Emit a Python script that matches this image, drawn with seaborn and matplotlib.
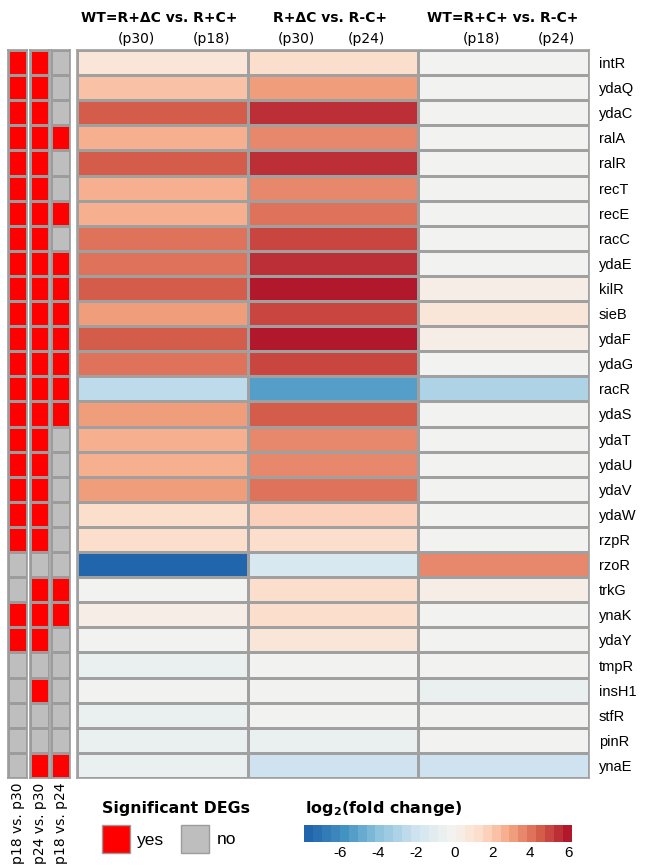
import numpy as np
import pandas as pd
import matplotlib
matplotlib.use("Agg")
import matplotlib.pyplot as plt
import seaborn as sns
from matplotlib.colors import LinearSegmentedColormap, ListedColormap, BoundaryNorm, TwoSlopeNorm
from matplotlib.patches import Rectangle

# ---- data -------------------------------------------------------------
genes = ["intR", "ydaQ", "ydaC", "ralA", "ralR", "recT", "recE", "racC", "ydaE",
         "kilR", "sieB", "ydaF", "ydaG", "racR", "ydaS", "ydaT", "ydaU", "ydaV",
         "ydaW", "rzpR", "rzoR", "trkG", "ynaK", "ydaY", "tmpR", "insH1", "stfR",
         "pinR", "ynaE"]

comparisons = ["WT=R+ΔC vs. R+C+", "R+ΔC vs. R-C+", "WT=R+C+ vs. R-C+"]
passages = [("(p30)", "(p18)"), ("(p30)", "(p24)"), ("(p18)", "(p24)")]

# log2 fold change per comparison
lfc_wt_vs_rcp = [0.8, 2.4, 4.7, 2.9, 4.7, 2.9, 2.9, 4.2, 4.2, 4.7, 3.3, 4.7, 4.2,
                 -2.5, 3.3, 2.9, 2.9, 3.3, 1.4, 1.2, -7.7, 0.0, 0.35, 0.05, -0.4,
                 0.05, -0.7, -0.7, -0.4]
lfc_dc_vs_rmc = [1.4, 3.3, 5.5, 3.7, 5.5, 3.7, 4.2, 5.1, 5.5, 6.2, 5.1, 6.2, 5.1,
                 -5.3, 4.7, 3.7, 3.7, 4.2, 1.9, 1.4, -1.5, 1.1, 1.3, 0.8, -0.1,
                 0.05, -0.1, -0.4, -1.9]
lfc_wt_vs_rmc = [-0.1, 0.05, 0.05, 0.05, 0.05, 0.05, 0.05, -0.1, 0.05, 0.35, 0.7, 0.35,
                 0.05, -3.2, 0.05, 0.05, 0.05, 0.05, -0.1, -0.1, 3.7, 0.35, 0.05,
                 0.05, 0.05, -0.4, -0.1, -0.1, -1.9]

# significant DEGs between passages (1 = yes, 0 = no)
sig_labels = ["p18 vs. p30", "p24 vs. p30", "p18 vs. p24"]
sig_p18_p30 = [1] * 20 + [0, 0, 1, 1, 0, 0, 0, 0, 0]
sig_p24_p30 = [1] * 20 + [0, 1, 1, 1, 0, 1, 0, 0, 1]
sig_p18_p24 = [0, 0, 0, 1, 0, 0, 1, 0, 1, 1, 1, 1, 1, 1, 1, 0, 0, 0, 0, 0,
               0, 1, 1, 0, 0, 0, 0, 0, 1]

cbar_ticks = [-6, -4, -2, 0, 2, 4, 6]
lfc_min, lfc_max = -7.9, 6.2

# ---- figure ------------------------------------------------------------
W, H = 656, 866
fig = plt.figure(figsize=(W / 100, H / 100), dpi=100)
fig.patch.set_facecolor("white")

def box(x0, y0, x1, y1):
    """pixel box (top-left origin) -> figure fraction rect"""
    return [x0 / W, 1 - y1 / H, (x1 - x0) / W, (y1 - y0) / H]

def fx(x):
    return x / W

def fy(y):
    return 1 - y / H

bold = dict(family="DejaVu Sans", weight="bold")
arial = ["Liberation Sans", "DejaVu Sans"]

# discrete diverging palette, saturated at both ends of the range
base = LinearSegmentedColormap.from_list(
    "rdbu9", ["#2166ac", "#4393c3", "#92c5de", "#d1e5f0", "#f4f3f0",
              "#fddbc7", "#f4a582", "#d6604d", "#b2182b"])
n_steps = 30
bounds = np.linspace(lfc_min, lfc_max, n_steps + 1)
step_vals = np.linspace(lfc_min, lfc_max, n_steps)
two = TwoSlopeNorm(vcenter=0, vmin=lfc_min, vmax=lfc_max)
cmap = ListedColormap(base(two(step_vals)))
norm = BoundaryNorm(bounds, ncolors=n_steps, clip=True)

lfc = pd.DataFrame({comparisons[0]: lfc_wt_vs_rcp,
                    comparisons[1]: lfc_dc_vs_rmc,
                    comparisons[2]: lfc_wt_vs_rmc}, index=genes)

# main heatmap
ax = fig.add_axes(box(77, 50, 589, 778))
cax = fig.add_axes(box(304, 825, 572, 842))
sns.heatmap(lfc, ax=ax, cmap=cmap, norm=norm, linewidths=1.0,
            linecolor="#a0a0a0", cbar=True, cbar_ax=cax,
            cbar_kws={"orientation": "horizontal", "ticks": cbar_ticks},
            xticklabels=False, yticklabels=genes)
ax.yaxis.tick_right()
ax.tick_params(axis="y", length=0, pad=7, labelrotation=0)
for t in ax.get_yticklabels():
    t.set_fontfamily(arial)
    t.set_fontsize(10.5)
for s in ax.spines.values():
    s.set_visible(True)
    s.set_color("#a0a0a0")
    s.set_linewidth(1.2)

cbar = ax.collections[0].colorbar
cbar.outline.set_visible(False)
cax.minorticks_off()
cax.tick_params(which="both", length=0, pad=3)
cax.set_xticks(cbar_ticks)
cax.set_xticklabels([f"{t}" for t in cbar_ticks], fontfamily=arial, fontsize=11)

# significance columns
sig_cols = [sig_p18_p30, sig_p24_p30, sig_p18_p24]
sig_x = [(8, 27), (30, 49), (51, 70)]
sig_cmap = ListedColormap(["#bebebe", "#ff0000"])
for vals, label, (x0, x1) in zip(sig_cols, sig_labels, sig_x):
    sax = fig.add_axes(box(x0, 50, x1, 778))
    sns.heatmap(pd.DataFrame({label: vals}, index=genes), ax=sax, cmap=sig_cmap,
                vmin=0, vmax=1, cbar=False, linewidths=1.0, linecolor="#9c9c9c",
                xticklabels=False, yticklabels=False)
    for s in sax.spines.values():
        s.set_visible(True)
        s.set_color("#9c9c9c")
        s.set_linewidth(1.2)
    fig.text(fx((x0 + x1) / 2 + 0.5), fy(783), label, rotation=90, ha="center",
             va="top", family="DejaVu Sans", fontsize=10)

# column headers
col_centers = [159, 330, 503]
sub_x = [(136, 211), (296, 366), (482, 556)]
for name, c, (p1, p2), (sx1, sx2) in zip(comparisons, col_centers, passages, sub_x):
    fig.text(fx(c), fy(18), name, ha="center", va="center", fontsize=10, **bold)
    fig.text(fx(sx1), fy(39), p1, ha="center", va="center",
             family="DejaVu Sans", fontsize=10)
    fig.text(fx(sx2), fy(39), p2, ha="center", va="center",
             family="DejaVu Sans", fontsize=10)

# significance legend
fig.text(fx(102), fy(809), "Significant DEGs", ha="left", va="center",
         fontsize=11.3, **bold)
for (x0, lab, tx, col) in [(102, "yes", 137, "#ff0000"), (181, "no", 217, "#bebebe")]:
    fig.add_artist(Rectangle((fx(x0), fy(853)), 28 / W, 28 / H,
                             transform=fig.transFigure, facecolor=col,
                             edgecolor="#9c9c9c", linewidth=1.0))
    fig.text(fx(tx), fy(840), lab, ha="left", va="center",
             family=arial, fontsize=12.5)

# colour scale title
fig.text(fx(305), fy(809), "log$_\\mathbf{2}$(fold change)", ha="left",
         va="center", fontsize=11.5, **bold)

fig.savefig("out.png", dpi=100, facecolor="white")
